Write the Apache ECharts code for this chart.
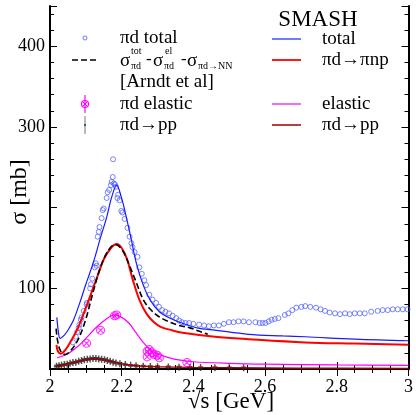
<!DOCTYPE html>
<html>
<head>
<meta charset="utf-8">
<title>πd cross sections</title>
<script src="https://cdn.jsdelivr.net/npm/echarts@6/dist/echarts.min.js"></script>
<style>
  html, body { margin: 0; padding: 0; background: #fff; }
  #chart { width: 416px; height: 415px; }
</style>
</head>
<body>
<div id="chart"></div>
<script>
// ---- SMASH model curves: [sqrt(s) in GeV, sigma in mb] ----
const smashTotal = [
  [2.019, 64], [2.024, 44], [2.028, 38], [2.04, 42], [2.05, 48], [2.065, 60], [2.083, 82],
  [2.1, 105], [2.111, 119], [2.125, 138], [2.139, 160], [2.158, 188], [2.172, 213],
  [2.186, 228], [2.199, 213], [2.213, 188], [2.227, 160], [2.241, 131], [2.26, 104],
  [2.28, 85], [2.305, 71], [2.335, 63], [2.368, 57], [2.41, 51], [2.463, 48], [2.554, 43],
  [2.65, 41], [2.712, 40], [2.85, 37], [3.0, 35]
];
const smashPiNP = [
  [2.018, 30], [2.022, 22], [2.03, 19], [2.045, 25], [2.06, 36], [2.075, 48], [2.089, 63],
  [2.111, 89], [2.13, 112], [2.15, 136], [2.17, 150], [2.186, 155], [2.2, 150], [2.215, 136],
  [2.23, 112], [2.25, 85], [2.27, 68], [2.29, 58], [2.31, 52], [2.34, 48], [2.37, 45],
  [2.46, 40], [2.554, 37], [2.712, 33], [2.85, 31.5], [3.0, 30]
];
const smashElastic = [
  [2.02, 14], [2.05, 19], [2.08, 29], [2.1, 38], [2.13, 52], [2.16, 63], [2.18, 67],
  [2.2, 64], [2.22, 57], [2.24, 45], [2.26, 33], [2.28, 24], [2.3, 19], [2.325, 15],
  [2.35, 12], [2.4, 9], [2.5, 7], [2.6, 6], [2.8, 5], [3.0, 4.5]
];
const smashPP = [
  [2.018, 3], [2.04, 5], [2.07, 8.5], [2.1, 11.5], [2.13, 12.5], [2.16, 10.5], [2.19, 7.5],
  [2.22, 5], [2.26, 3.5], [2.3, 2.8], [2.4, 2], [2.5, 1.5], [2.7, 1], [3.0, 0.7]
];

// ---- Derived: sigma_tot - sigma_el - sigma(pi d -> NN) [Arndt et al] ----
const arndtInelastic = [
  [2.017, 50], [2.022, 33], [2.03, 22], [2.042, 18], [2.06, 24], [2.08, 38], [2.1, 62],
  [2.12, 95], [2.14, 125], [2.16, 145], [2.18, 154], [2.19, 153], [2.205, 145], [2.22, 130],
  [2.24, 108], [2.26, 86], [2.28, 74], [2.3, 66], [2.33, 59], [2.36, 54], [2.39, 51],
  [2.415, 47], [2.44, 43]
];

// ---- Measured data ----
const dataTotal = [
  [2.064, 33], [2.072, 40], [2.076, 46], [2.080, 51], [2.082, 55], [2.086, 61], [2.088, 64],
  [2.094, 72], [2.102, 80], [2.103, 82], [2.112, 100], [2.114, 105], [2.118, 112], [2.125, 126],
  [2.128, 131], [2.130, 128], [2.133, 164], [2.136, 170], [2.138, 176], [2.144, 187],
  [2.147, 197], [2.150, 199], [2.158, 212], [2.161, 219], [2.165, 222], [2.170, 228],
  [2.172, 232], [2.175, 238], [2.176, 260], [2.178, 230], [2.181, 229], [2.184, 226],
  [2.188, 212], [2.190, 216], [2.194, 209], [2.199, 196], [2.202, 194], [2.208, 186],
  [2.216, 175], [2.222, 164], [2.227, 156], [2.230, 151], [2.236, 145], [2.244, 139],
  [2.249, 126], [2.256, 118], [2.263, 110], [2.268, 104], [2.277, 92], [2.286, 86],
  [2.296, 82], [2.304, 77], [2.313, 73], [2.322, 71], [2.332, 69], [2.342, 66], [2.352, 63],
  [2.36, 60], [2.368, 58], [2.378, 57], [2.388, 57], [2.40, 56], [2.416, 55], [2.43, 54],
  [2.443, 53], [2.457, 54], [2.471, 54], [2.485, 56], [2.499, 58], [2.512, 58], [2.526, 59],
  [2.54, 59], [2.555, 58], [2.573, 58], [2.585, 57], [2.593, 57], [2.601, 57], [2.61, 59],
  [2.618, 61], [2.627, 62], [2.637, 63], [2.655, 67], [2.665, 69], [2.676, 73], [2.687, 76],
  [2.701, 77], [2.712, 78], [2.726, 77], [2.742, 76], [2.755, 74], [2.767, 72], [2.78, 70],
  [2.795, 69], [2.809, 68], [2.823, 69], [2.836, 68], [2.850, 69], [2.864, 69], [2.878, 69],
  [2.896, 71], [2.914, 72], [2.928, 73], [2.942, 73], [2.956, 74], [2.970, 74], [2.984, 74],
  [2.997, 74]
];
const dataElastic = [
  [2.102, 32], [2.141, 48], [2.180, 66], [2.186, 67], [2.271, 15], [2.271, 22], [2.277, 24],
  [2.285, 20], [2.291, 18], [2.299, 17], [2.305, 14], [2.382, 8]
];
const dataPP = [
  [2.018, 3.5], [2.025, 4], [2.032, 4.5], [2.04, 5.5], [2.048, 6], [2.056, 7], [2.064, 8],
  [2.072, 8.5], [2.08, 9.5], [2.088, 10.5], [2.096, 11.5], [2.104, 12], [2.112, 12.5],
  [2.12, 13], [2.128, 13], [2.136, 12.5], [2.144, 12], [2.152, 11.5], [2.16, 10.5],
  [2.168, 9.5], [2.176, 8.5], [2.184, 7.5], [2.195, 6.5], [2.21, 5.5], [2.225, 4.5],
  [2.24, 4], [2.26, 3.5], [2.28, 3], [2.30, 2.8], [2.33, 2.5], [2.36, 2.2], [2.39, 2],
  [2.42, 1.8], [2.46, 1.6], [2.5, 1.5], [2.54, 1.4]
];

// ---- Axis ticks ----
const xTickStep = 0.2;
const yTickStep = 100;
const yMinorStep = 20;
const yLabelled = [100, 300, 400];

const FONT = '"Liberation Serif", "DejaVu Serif", serif';
const BLUE = '#1a1aff', RED = '#ff0000', MAGENTA = '#ff00ff', DARKRED = '#a00000';

const chart = echarts.init(document.getElementById('chart'), null, { renderer: 'canvas' });

const grid = { left: 50, right: 5, top: 6, bottom: 46 };

function xAxisDef(position, showLabels) {
  return {
    type: 'value', position, min: 2, max: 3, interval: xTickStep,
    axisLine: { show: true, lineStyle: { color: '#000', width: 2 } },
    axisTick: { show: true, inside: true, length: 7, lineStyle: { color: '#000', width: 1 } },
    minorTick: { show: true, splitNumber: 4, length: 4, lineStyle: { color: '#000', width: 1 } },
    splitLine: { show: false },
    axisLabel: {
      show: showLabels, margin: 9, color: '#000', fontFamily: FONT, fontSize: 18,
      formatter: v => String(Math.round(v * 10) / 10)
    }
  };
}
function yAxisDef(position, step, len, showLabels, showLine) {
  return {
    type: 'value', position, min: 0, max: 450, interval: step,
    axisLine: { show: showLine, lineStyle: { color: '#000', width: 2 } },
    axisTick: { show: true, inside: true, length: len, lineStyle: { color: '#000', width: 1 } },
    splitLine: { show: false },
    axisLabel: {
      show: showLabels, margin: 5, color: '#000', fontFamily: FONT, fontSize: 18,
      formatter: v => (yLabelled.indexOf(v) >= 0 ? String(v) : '')
    }
  };
}

// Small symbol shapes
const ringPath = 'path://M0,50A50,50,0,1,0,100,50A50,50,0,1,0,0,50Z';
const crossCirclePath = 'path://M0,50A50,50,0,1,0,100,50A50,50,0,1,0,0,50ZM18,18L82,82M82,18L18,82';
const barDotPath = 'path://M40,0L60,0L60,30L85,30L85,70L60,70L60,100L40,100L40,70L15,70L15,30L40,30Z';

// Legend built from graphic primitives
const legendText = (x, y, text, size, align) => ({
  type: 'text', x, y, silent: true,
  style: { text, fontFamily: FONT, fontSize: size, fill: '#000',
           textAlign: align || 'left', textVerticalAlign: 'middle' }
});
const legendLine = (x1, x2, y, color, width, dash) => ({
  type: 'line', silent: true,
  shape: { x1, y1: y, x2, y2: y },
  style: { stroke: color, lineWidth: width, lineDash: dash || null }
});

const graphics = [
  // left block (data)
  { type: 'circle', shape: { cx: 85, cy: 38, r: 2 }, style: { fill: 'none', stroke: '#6677ff', lineWidth: 1 } },
  legendText(120, 38, 'πd total', 19),
  legendLine(72, 98, 60, '#000', 1.6, [6, 3]),
  legendText(120, 61, 'σ', 19),
  legendText(131, 51, 'tot', 10),
  legendText(131, 66, 'πd', 10),
  legendText(146, 60, '-', 17),
  legendText(153, 61, 'σ', 19),
  legendText(165, 51, 'el', 10),
  legendText(164, 66, 'πd', 10),
  legendText(181, 60, '-', 17),
  legendText(187, 61, 'σ', 19),
  legendText(198, 66, 'πd→NN', 10),
  legendText(120, 82, '[Arndt et al]', 19),
  { type: 'line', shape: { x1: 85, y1: 95, x2: 85, y2: 113 }, style: { stroke: MAGENTA, lineWidth: 1.2 } },
  { type: 'circle', shape: { cx: 85, cy: 104, r: 3.5 }, style: { fill: 'none', stroke: MAGENTA, lineWidth: 1.2 } },
  { type: 'line', shape: { x1: 82.5, y1: 101.5, x2: 87.5, y2: 106.5 }, style: { stroke: MAGENTA, lineWidth: 1 } },
  { type: 'line', shape: { x1: 87.5, y1: 101.5, x2: 82.5, y2: 106.5 }, style: { stroke: MAGENTA, lineWidth: 1 } },
  legendText(120, 104, 'πd elastic', 19),
  { type: 'line', shape: { x1: 85, y1: 116, x2: 85, y2: 134 }, style: { stroke: '#777', lineWidth: 1 } },
  { type: 'rect', shape: { x: 84, y: 124, width: 2, height: 2 }, style: { fill: '#555' } },
  legendText(120, 125, 'πd→pp', 19),
  // right block (model)
  legendText(318, 20, 'SMASH', 23, 'center'),
  legendLine(272, 301, 39, '#4050ff', 1.5),
  legendText(322, 39, 'total', 19),
  legendLine(272, 301, 60, RED, 1.8),
  legendText(322, 60, 'πd→πnp', 19),
  legendLine(272, 301, 104, '#f070f0', 2),
  legendText(322, 104, 'elastic', 19),
  legendLine(272, 301, 125, DARKRED, 1.5),
  legendText(322, 125, 'πd→pp', 19),
  // axis titles
  {
    type: 'text', x: 20, y: 192, rotation: Math.PI / 2, silent: true,
    style: { text: 'σ [mb]', fontFamily: FONT, fontSize: 24, fill: '#000',
             textAlign: 'center', textVerticalAlign: 'middle' }
  },
  {
    type: 'text', x: 231, y: 402, silent: true,
    style: { text: '√s [GeV]', fontFamily: FONT, fontSize: 23, fill: '#000',
             textAlign: 'center', textVerticalAlign: 'middle' }
  }
];

const lineSeries = (name, data, color, width, type, z) => ({
  name, type: 'line', data, xAxisIndex: 0, yAxisIndex: 0,
  smooth: 0.35, showSymbol: false, symbol: 'none', clip: true, z: z || 3,
  lineStyle: { color, width, type: type || 'solid' }
});

chart.setOption({
  animation: false,
  backgroundColor: '#fff',
  grid,
  xAxis: [xAxisDef('bottom', true), xAxisDef('top', false)],
  yAxis: [
    yAxisDef('left', yTickStep, 7, true, true),
    yAxisDef('left', yMinorStep, 4, false, false),
    yAxisDef('right', yTickStep, 7, false, true),
    yAxisDef('right', yMinorStep, 4, false, false)
  ],
  series: [
    {
      name: 'πd total', type: 'scatter', data: dataTotal, xAxisIndex: 0, yAxisIndex: 0,
      symbol: ringPath, symbolSize: 5, z: 2,
      itemStyle: { color: 'rgba(0,0,0,0)', borderColor: '#4457ff', borderWidth: 0.9 }
    },
    {
      name: 'πd→pp data', type: 'scatter', data: dataPP, xAxisIndex: 0, yAxisIndex: 0,
      symbol: barDotPath, symbolSize: [5, 7], z: 2,
      itemStyle: { color: '#222' }
    },
    lineSeries('total', smashTotal, BLUE, 1.2),
    lineSeries('σ tot - σ el - σ NN', arndtInelastic, '#000', 1.6, [6, 3], 4),
    lineSeries('πd→πnp', smashPiNP, RED, 2),
    lineSeries('elastic', smashElastic, MAGENTA, 1.2),
    lineSeries('πd→pp', smashPP, DARKRED, 1.4),
    {
      name: 'πd elastic', type: 'scatter', data: dataElastic, xAxisIndex: 0, yAxisIndex: 0,
      symbol: crossCirclePath, symbolSize: 8, z: 5,
      itemStyle: { color: 'rgba(0,0,0,0)', borderColor: MAGENTA, borderWidth: 1.1 }
    }
  ],
  graphic: graphics
});
</script>
</body>
</html>
